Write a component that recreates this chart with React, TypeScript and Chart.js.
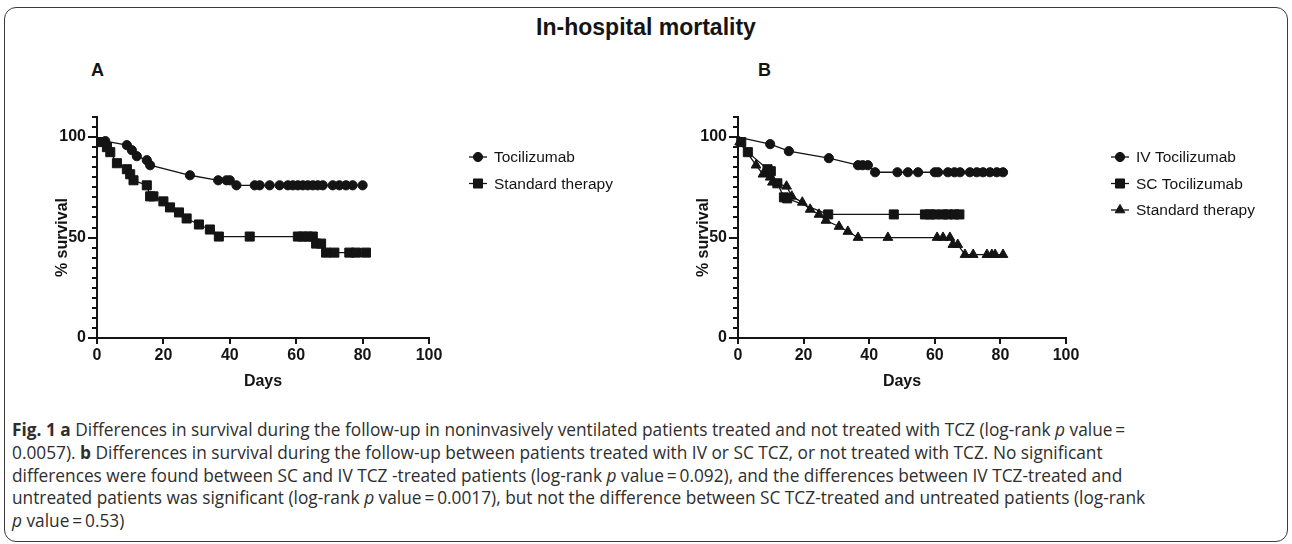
import React, { useEffect, useRef } from 'react';
import { Chart, registerables } from 'chart.js';
import { drawPoint } from 'chart.js/helpers';

Chart.register(...registerables);

const INK = '#141414';
const CHART_FONT = '"Liberation Sans", Arial, sans-serif';

// ---------- data ----------
const xTicks = [0, 20, 40, 60, 80, 100];
const yMajorTicks = [0, 50, 100];
const yMinorTicks = [5, 10, 15, 20, 25, 30, 35, 40, 45, 55, 60, 65, 70, 75, 80, 85, 90, 95, 105, 110];

// Panel A
const aTociDays = [0, 2.5, 9, 10.5, 12, 15, 16, 28, 36.5, 39, 40, 42, 47.5, 49, 52, 55, 57.5, 59, 60.5, 62, 63.5, 65, 66.5, 68, 71, 73, 75, 77, 80];
const aTociSurv = [100, 98, 96, 93.5, 90.5, 88.5, 86, 81, 78.5, 78.5, 78.5, 76, 76, 76, 76, 76, 76, 76, 76, 76, 76, 76, 76, 76, 76, 76, 76, 76, 76];
const aStdDays = [0, 1.5, 3, 4, 6, 9, 10, 11, 15, 16, 17, 20, 22, 24.7, 27, 30.7, 34, 36.7, 46, 60.5, 62, 63.5, 65, 66, 67.5, 69, 71.5, 76, 78, 81];
const aStdSurv = [100, 97.5, 95, 92.5, 87, 84, 81.5, 78.5, 76, 70.5, 70.5, 68, 65, 62.5, 59.5, 56.5, 54, 50.5, 50.5, 50.5, 50.5, 50.5, 50.5, 47, 47, 42.5, 42.5, 42.5, 42.5, 42.5];

// Panel B
const bIvDays = [0, 9.8, 15.5, 27.7, 36.6, 38, 39.6, 41.8, 48.6, 51.8, 54.9, 60, 61, 64, 66, 67.7, 70.7, 72.8, 74.7, 76.8, 78.9, 80.8];
const bIvSurv = [100, 96.5, 93, 89.5, 86, 86, 86, 82.5, 82.5, 82.5, 82.5, 82.5, 82.5, 82.5, 82.5, 82.5, 82.5, 82.5, 82.5, 82.5, 82.5, 82.5];
const bScDays = [0, 1, 3, 9, 10, 12, 14, 15, 27.5, 47.5, 57, 58.5, 60, 62.5, 64, 66, 67.5];
const bScSurv = [100, 97.5, 92.5, 84, 83, 77, 70, 69.5, 61.5, 61.5, 61.5, 61.5, 61.5, 61.5, 61.5, 61.5, 61.5];
const bStdDays = [0, 0.5, 5.5, 7.6, 9.8, 10.5, 14.8, 16.4, 19.6, 22, 24.7, 26.8, 30.8, 33.5, 36.6, 45.7, 60.7, 62.5, 64.6, 65.5, 67, 69.2, 71.7, 75.9, 77.4, 78.4, 80.8];
const bStdSurv = [100, 97.5, 86, 81.5, 80, 77.5, 75.5, 70.5, 67.5, 64, 61.5, 58.5, 55.5, 53, 50, 50, 50, 50, 50, 46.5, 46.5, 41.5, 41.5, 41.5, 41.5, 41.5, 41.5];

const panelALabels = ['Tocilizumab', 'Standard therapy'];
const panelBLabels = ['IV Tocilizumab', 'SC Tocilizumab', 'Standard therapy'];

const titleText = 'In-hospital mortality';
const yTitle = '% survival';
const xTitle = 'Days';

type Series = { label: string; x: number[]; y: number[]; style: string; r: number };

const seriesA: Series[] = [
  { label: panelALabels[0], x: aTociDays, y: aTociSurv, style: 'circle', r: 4.6 },
  { label: panelALabels[1], x: aStdDays, y: aStdSurv, style: 'rect', r: 6.4 },
];
const seriesB: Series[] = [
  { label: panelBLabels[0], x: bIvDays, y: bIvSurv, style: 'circle', r: 4.6 },
  { label: panelBLabels[1], x: bScDays, y: bScSurv, style: 'rect', r: 6.4 },
  { label: panelBLabels[2], x: bStdDays, y: bStdSurv, style: 'triangle', r: 5.6 },
];

// ---------- plugin: minor ticks, rotated y title, legend ----------
const decorPlugin = {
  id: 'decor',
  afterDraw(chart: any, _args: any, opts: any) {
    const { ctx, chartArea } = chart;
    const y = chart.scales.y;
    ctx.save();
    ctx.strokeStyle = INK;
    ctx.lineWidth = 2;
    for (const v of yMinorTicks) {
      const py = Math.round(y.getPixelForValue(v));
      ctx.beginPath();
      ctx.moveTo(chartArea.left - 5, py);
      ctx.lineTo(chartArea.left, py);
      ctx.stroke();
    }
    ctx.restore();

    ctx.save();
    ctx.translate(chartArea.left - 34, y.getPixelForValue(50));
    ctx.rotate(-Math.PI / 2);
    ctx.font = `bold 16px ${CHART_FONT}`;
    ctx.fillStyle = INK;
    ctx.textAlign = 'center';
    ctx.textBaseline = 'middle';
    ctx.fillText(opts.yTitle, 0, 0);
    ctx.restore();

    ctx.save();
    chart.data.datasets.forEach((ds: any, i: number) => {
      const lx = chartArea.right + opts.legendDx;
      const ly = chartArea.top + opts.legendDy + i * opts.legendGap;
      ctx.strokeStyle = INK;
      ctx.fillStyle = INK;
      ctx.lineWidth = 1.3;
      ctx.beginPath();
      ctx.moveTo(lx - 9, ly);
      ctx.lineTo(lx + 9, ly);
      ctx.stroke();
      ctx.lineWidth = 1;
      drawPoint(ctx, { pointStyle: ds.pointStyle, radius: ds.legendR, rotation: 0, borderWidth: 1 } as any, lx, ly);
      ctx.font = `15.5px ${CHART_FONT}`;
      ctx.textAlign = 'left';
      ctx.textBaseline = 'middle';
      ctx.fillText(ds.label, lx + 16, ly + 1);
    });
    ctx.restore();
  },
};

const W = 646;
const H = 360;

function Panel(props: { left: number; axisLeft: number; axisRight: number; series: Series[]; legendDx: number }) {
  const ref = useRef<HTMLCanvasElement | null>(null);
  useEffect(() => {
    if (!ref.current) return;
    const chart = new Chart(ref.current, {
      type: 'line',
      data: {
        datasets: props.series.map((s) => ({
          label: s.label,
          data: s.x.map((x, i) => ({ x, y: s.y[i] })),
          borderColor: INK,
          backgroundColor: INK,
          borderWidth: 1.3,
          pointStyle: s.style,
          legendR: s.r,
          pointRadius: (c: any) => (c.dataIndex === 0 ? 0 : s.r),
          pointBorderWidth: 1,
          pointBackgroundColor: INK,
          pointBorderColor: INK,
          tension: 0,
          fill: false,
          clip: false,
        })) as any,
      },
      options: {
        animation: false,
        responsive: false,
        events: [],
        layout: { padding: { top: 77, right: W - props.axisRight, bottom: 9, left: 0 } },
        plugins: {
          legend: { display: false },
          tooltip: { enabled: false },
          decor: { yTitle, legendDx: props.legendDx, legendDy: 40, legendGap: 26.5 },
        } as any,
        scales: {
          x: {
            type: 'linear',
            min: 0,
            max: 100,
            afterBuildTicks: (s: any) => {
              s.ticks = xTicks.map((v) => ({ value: v }));
            },
            ticks: { font: { family: CHART_FONT, size: 16, weight: 'bold' }, color: INK, padding: 2, maxRotation: 0, autoSkip: false },
            grid: { drawOnChartArea: false, drawTicks: true, tickLength: 6, color: INK, lineWidth: 2 },
            border: { display: true, color: INK, width: 2 },
            title: { display: true, text: xTitle, font: { family: CHART_FONT, size: 16, weight: 'bold' }, color: INK, padding: 0 },
            afterFit: (s: any) => {
              s.height = 53;
            },
          },
          y: {
            type: 'linear',
            min: 0,
            max: 110,
            afterBuildTicks: (s: any) => {
              s.ticks = yMajorTicks.map((v) => ({ value: v }));
            },
            ticks: { font: { family: CHART_FONT, size: 16, weight: 'bold' }, color: INK, padding: 2 },
            grid: { drawOnChartArea: false, drawTicks: true, tickLength: 9, color: INK, lineWidth: 2 },
            border: { display: true, color: INK, width: 2 },
            afterFit: (s: any) => {
              s.width = props.axisLeft;
            },
          },
        } as any,
      },
      plugins: [decorPlugin as any],
    });
    return () => chart.destroy();
  }, []);
  return (
    <canvas
      ref={ref}
      width={W}
      height={H}
      style={{ position: 'absolute', left: props.left, top: 40, width: W, height: H }}
    />
  );
}

const capStyle: React.CSSProperties = {
  position: 'absolute',
  left: 12,
  top: 419,
  fontFamily: '"Open Sans", "Noto Sans", sans-serif',
  fontSize: 17.3,
  lineHeight: '22.75px',
  color: '#2e2e2e',
  whiteSpace: 'nowrap',
};

export default function App() {
  const eq = '\u2009=\u2009';
  return (
    <div style={{ position: 'absolute', left: 0, top: 0, width: 1292, height: 544, background: '#fff', overflow: 'hidden' }}>
      <div
        style={{
          position: 'absolute',
          left: 4,
          top: 7,
          width: 1282,
          height: 533,
          border: '1.5px solid #3a3a3a',
          borderRadius: 12,
        }}
      />
      <div
        style={{
          position: 'absolute',
          left: 0,
          top: 13,
          width: 1292,
          textAlign: 'center',
          fontFamily: CHART_FONT,
          fontWeight: 'bold',
          fontSize: 23,
          lineHeight: '28px',
          color: INK,
        }}
      >
        {titleText}
      </div>
      <div style={{ position: 'absolute', left: 91, top: 60, fontFamily: CHART_FONT, fontWeight: 'bold', fontSize: 18, lineHeight: '20px', color: INK }}>A</div>
      <div style={{ position: 'absolute', left: 758, top: 60, fontFamily: CHART_FONT, fontWeight: 'bold', fontSize: 18, lineHeight: '20px', color: INK }}>B</div>
      <Panel left={0} axisLeft={97} axisRight={429} series={seriesA} legendDx={49} />
      <Panel left={646} axisLeft={92} axisRight={420} series={seriesB} legendDx={54} />
      <div style={capStyle}>
        <div>
          <b>Fig. 1</b> <b>a</b> Differences in survival during the follow-up in noninvasively ventilated patients treated and not treated with TCZ (log-rank <i>p</i> value{eq}
        </div>
        <div>
          0.0057). <b>b</b> Differences in survival during the follow-up between patients treated with IV or SC TCZ, or not treated with TCZ. No significant
        </div>
        <div>
          differences were found between SC and IV TCZ -treated patients (log-rank <i>p</i> value{eq}0.092), and the differences between IV TCZ-treated and
        </div>
        <div>
          untreated patients was significant (log-rank <i>p</i> value{eq}0.0017), but not the difference between SC TCZ-treated and untreated patients (log-rank
        </div>
        <div>
          <i>p</i> value{eq}0.53)
        </div>
      </div>
    </div>
  );
}
